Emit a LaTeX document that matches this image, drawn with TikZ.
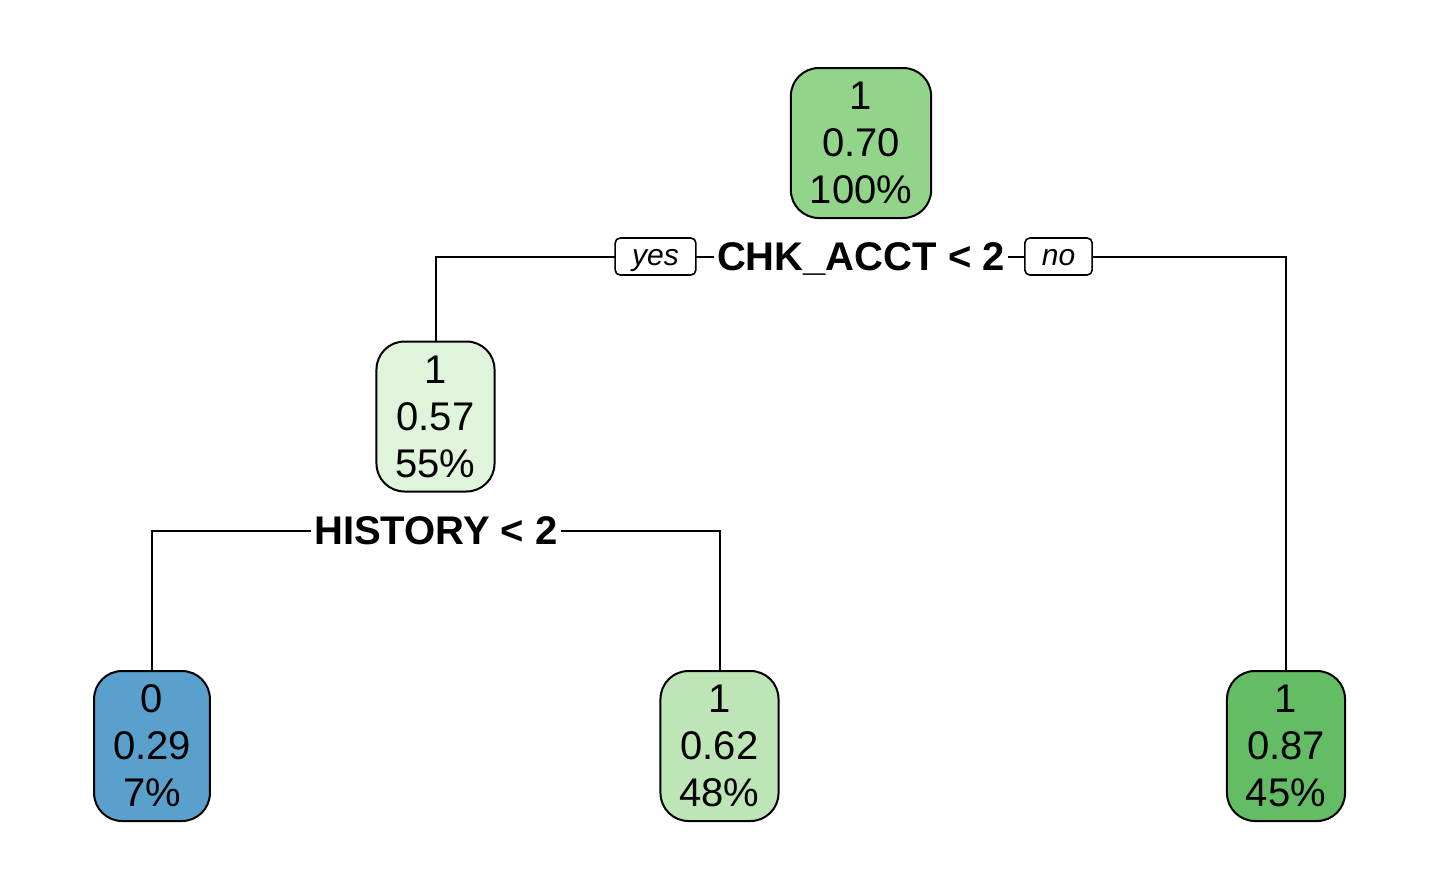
\documentclass[tikz,border=0pt]{standalone}
\usepackage{fontspec}
\setmainfont{Liberation Sans}
\usepackage{tikz}
\usetikzlibrary{backgrounds}

\definecolor{rootgreen}{RGB}{147,212,139}
\definecolor{palegreen}{RGB}{224,243,219}
\definecolor{midgreen}{RGB}{189,229,182}
\definecolor{darkgreen}{RGB}{100,188,100}
\definecolor{blueleaf}{RGB}{90,160,205}

\begin{document}
\begin{tikzpicture}[x=0.5pt,y=-0.5pt,
	leaf/.style={draw,line width=1pt,rounded corners=14pt,align=center,
		inner xsep=9.5pt,inner ysep=0pt,minimum height=75pt,
		execute at begin node=\rule{0pt}{18.5pt},
		font=\fontsize{20}{23.5}\selectfont},
	split/.style={fill=white,inner xsep=1.5pt,inner ysep=3pt,text height=13.8pt,text depth=0.5pt,
		font=\fontsize{20}{23}\selectfont\bfseries},
	answer/.style={draw,fill=white,line width=0.8pt,rounded corners=2.5pt,
		inner xsep=8.5pt,inner ysep=0pt,minimum height=18.5pt,text height=13pt,text depth=3.7pt,
		font=\fontsize{15}{18}\selectfont\itshape}]

	\useasboundingbox (0,0) rectangle (1440,889);

	\node[leaf,fill=rootgreen] (root) at (861,143) {1\\0.70\\100\%};
	\node[leaf,fill=palegreen] (hist) at (435.5,416.5) {1\\0.57\\55\%};
	\node[leaf,fill=blueleaf] (bad) at (152,746) {0\\0.29\\7\%};
	\node[leaf,fill=midgreen] (fair) at (719.5,746) {1\\0.62\\48\%};
	\node[leaf,fill=darkgreen] (good) at (1286,746) {1\\0.87\\45\%};

	\node[split] (chk) at (861,257) {CHK\_ACCT < 2};
	\node[split] (hst) at (436,531) {HISTORY < 2};
	\node[answer] (yes) at (655.5,256.5) {yes};
	\node[answer] (no) at (1058.5,256.5) {no};

	\begin{pgfonlayer}{background}
		\draw[line width=1pt] (hist.north) |- (chk.center) -| (good.north);
		\draw[line width=1pt] (bad.north) |- (hst.center) -| (fair.north);
	\end{pgfonlayer}

\end{tikzpicture}
\end{document}
